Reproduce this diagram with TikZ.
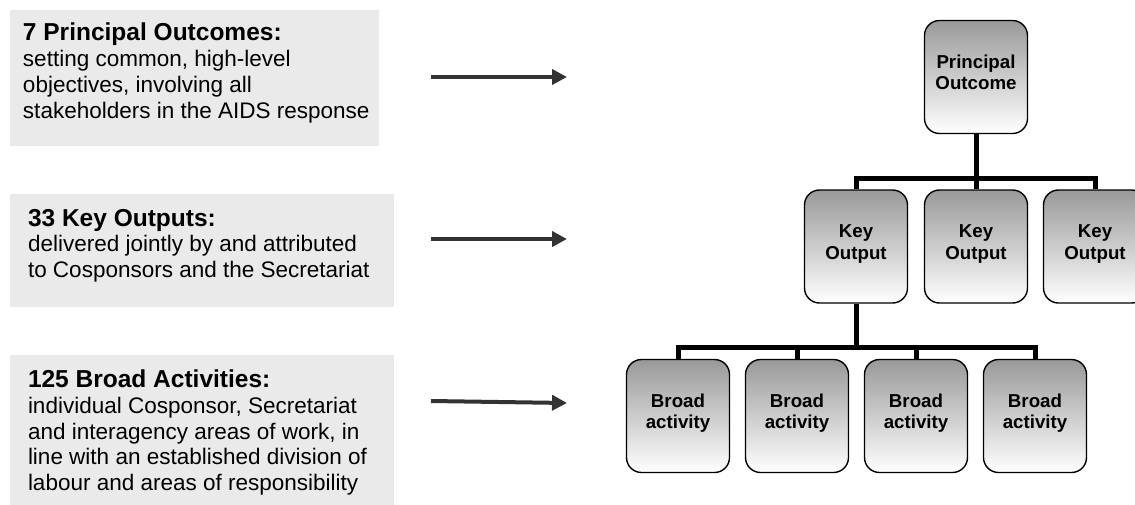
\documentclass[tikz,border=0pt]{standalone}
\usepackage{fontspec}
\setmainfont{Liberation Sans}
\usepackage{tikz}
\usetikzlibrary{arrows.meta,calc}

\definecolor{infogrey}{RGB}{234,234,234}
\definecolor{arrowgrey}{RGB}{51,51,51}

\begin{document}
\begin{tikzpicture}[x=1pt,y=1pt]
\tikzset{info/.style={rectangle, fill=infogrey, inner sep=0pt},
  infotext/.style={anchor=west, align=left, inner sep=0pt, font=\fontsize{22.5}{25.7}\selectfont},
  orgbox/.style={draw, line width=1.4pt, rounded corners=15pt, minimum width=103pt, minimum height=113pt,
    top color=black!40, bottom color=white, text width=100pt, align=center, inner sep=0pt,
    text height=13pt, text depth=31pt, font=\fontsize{18.7}{21.5}\selectfont\bfseries},
  conn/.style={line width=5pt},
  pointer/.style={draw=arrowgrey, line width=4pt, -{Triangle[length=15pt,width=15pt]}}}

\useasboundingbox (0,0) rectangle (1135,-504);

% Levels described on the left
\node[info, minimum width=369pt, minimum height=136pt] (pobox) at (194.5,-78) {};
\node[info, minimum width=384pt, minimum height=113pt] (kobox) at (202,-250.5) {};
\node[info, minimum width=384pt, minimum height=165pt] (babox) at (202,-437.5) {};

\node[infotext] (potext) at ([xshift=13pt,yshift=5pt]pobox.west)
{{\fontsize{24.5}{25.7}\selectfont\bfseries 7 Principal Outcomes:}\\
setting common, high-level\\ objectives, involving all\\ stakeholders in the AIDS response};
\node[infotext] (kotext) at ([xshift=18pt,yshift=5pt]kobox.west)
{{\fontsize{24.5}{25.7}\selectfont\bfseries 33 Key Outputs:}\\
delivered jointly by and attributed\\ to Cosponsors and the Secretariat};
\node[infotext] (batext) at ([xshift=18pt,yshift=5pt]babox.west)
{{\fontsize{24.5}{25.7}\selectfont\bfseries 125 Broad Activities:}\\
individual Cosponsor, Secretariat\\ and interagency areas of work, in\\
line with an established division of\\ labour and areas of responsibility};

% Pointers
\coordinate (poa) at (431,-77);
\coordinate (pob) at (567,-77);
\coordinate (koa) at (431,-239);
\coordinate (kob) at (567,-239);
\coordinate (baa) at (431,-401);
\coordinate (bab) at (567,-403);
\draw[pointer] (poa) -- (pob);
\draw[pointer] (koa) -- (kob);
\draw[pointer] (baa) -- (bab);

% Tree
\node[orgbox] (po) at (976,-77) {Principal\\Outcome};

\node[orgbox] (ko1) at (856,-246.5) {Key\\Output};
\node[orgbox] (ko2) at (976,-246.5) {Key\\Output};
\node[orgbox] (ko3) at (1095,-246.5) {Key\\Output};

\node[orgbox] (ba1) at (678,-416) {Broad\\activity};
\node[orgbox] (ba2) at (797,-416) {Broad\\activity};
\node[orgbox] (ba3) at (916,-416) {Broad\\activity};
\node[orgbox] (ba4) at (1035,-416) {Broad\\activity};

% Connections
\coordinate (kobar) at ($(ko2.north)+(0,11)$);
\draw[conn] (po.south) -- (kobar);
\draw[conn] (ko1.north) |- (kobar) -| (ko3.north);
\draw[conn] (kobar) -- (ko2.north);

\coordinate (babar) at ($(ko1.south |- ba1.north)+(0,11)$);
\draw[conn] (ko1.south) -- (babar);
\draw[conn] (ba1.north) |- (babar) -| (ba4.north);
\draw[conn] (ba2.north) -- (ba2.north |- babar);
\draw[conn] (ba3.north) -- (ba3.north |- babar);

\end{tikzpicture}
\end{document}
